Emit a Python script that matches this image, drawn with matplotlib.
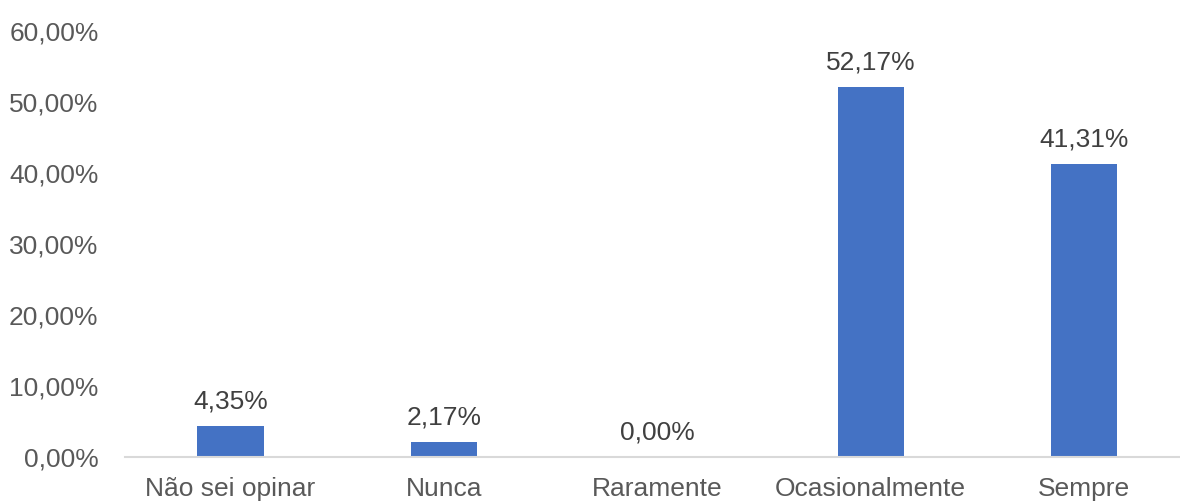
import matplotlib.pyplot as plt

# dados do gráfico
categorias = ['Não sei opinar', 'Nunca', 'Raramente', 'Ocasionalmente', 'Sempre']
valores = [4.35, 2.17, 0.00, 52.17, 41.31]
rotulos_y = [0, 10, 20, 30, 40, 50, 60]

plt.rcParams['font.family'] = ['Liberation Sans', 'DejaVu Sans']

fig = plt.figure(figsize=(11.8, 5.03), dpi=100)
ax = fig.add_axes([125 / 1180, 45.7 / 503, 1055 / 1180, 426.2 / 503])

x = range(len(categorias))
barras = ax.bar(x, valores, width=0.31, color='#4472C4')

for xi, v in zip(x, valores):
    ax.annotate(f'{v:.2f}%'.replace('.', ','), (xi, v), xytext=(0, 9),
                textcoords='offset points', ha='center', va='bottom',
                fontsize=19, color='#404040')

ax.set_xlim(-0.494, 4.449)
ax.set_ylim(0, 60)
ax.set_yticks(rotulos_y)
ax.set_yticklabels([f'{t},00%' for t in rotulos_y])
ax.set_xticks(list(x))
ax.set_xticklabels(categorias)

for s in ['top', 'right', 'left']:
    ax.spines[s].set_visible(False)
ax.spines['bottom'].set_color('#D9D9D9')
ax.spines['bottom'].set_linewidth(1.5)

ax.tick_params(axis='y', length=0, pad=19, labelsize=19, labelcolor='#595959')
ax.tick_params(axis='x', length=0, pad=14, labelsize=19, labelcolor='#595959')

plt.savefig('out.png', dpi=100)
